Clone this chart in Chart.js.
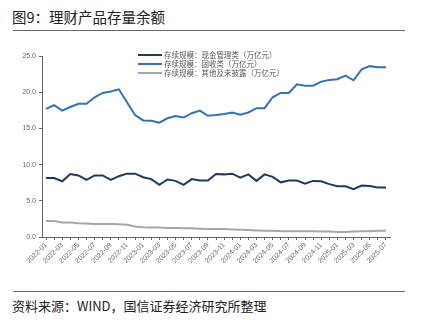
<!DOCTYPE html>
<html>
<head>
<meta charset="utf-8">
<script src="https://cdn.jsdelivr.net/npm/chart.js@4/dist/chart.umd.min.js"></script>
<style>
    body { margin: 0; width: 442px; height: 327px; background: #fff; position: relative; overflow: hidden;
           font-family: "Noto Sans CJK SC", "Noto Sans", sans-serif; }
    #title { position: absolute; left: 12px; top: 6px; font-size: 14.5px; color: #222; }
    .rule { position: absolute; left: 13px; width: 392px; height: 0; border-top: 1px solid #666; }
    #source { position: absolute; left: 12px; top: 296px; font-size: 13px; color: #222; }
    #wrap { position: absolute; left: 0; top: 45px; width: 400px; height: 240px; }
    #legend { position: absolute; left: 138px; top: 50px; font-size: 7.5px; color: #555; line-height: 9px; }
    #legend div { display: flex; align-items: center; }
    #legend span { display: inline-block; width: 24px; height: 2px; margin-right: 2px; }
</style>
</head>
<body>
<div id="title">图9：理财产品存量余额</div>
<div class="rule" style="top:30px"></div>
<div id="wrap"><canvas id="stockChart"></canvas></div>
<div id="legend"></div>
<div class="rule" style="top:291px"></div>
<div id="source">资料来源：WIND，国信证券经济研究所整理</div>
<script>
// Months 2022-01 .. 2025-07
const months = [];
for (let y = 2022; y <= 2025; y++) {
    for (let m = 1; m <= 12; m++) {
        if (y === 2025 && m > 7) break;
        months.push(`${y}-${String(m).padStart(2, '0')}`);
    }
}

const seriesNames = [
    '存续规模：现金管理类（万亿元）',
    '存续规模：固收类（万亿元）',
    '存续规模：其他及未披露（万亿元）'
];

const cashMgmt = [8.15, 8.15, 7.7, 8.7, 8.5, 7.9, 8.5, 8.5, 7.9, 8.4, 8.75,
    8.75, 8.25, 8.0, 7.2, 7.95, 7.75, 7.2, 8.0, 7.8, 7.8, 8.7,
    8.65, 8.75, 8.2, 8.65, 7.75, 8.65, 8.3, 7.55, 7.8, 7.8,
    7.35, 7.75, 7.7, 7.3, 7.0, 7.0, 6.6, 7.1, 7.05, 6.85, 6.85];

const fixedIncome = [17.7, 18.2, 17.45, 17.95, 18.4, 18.4, 19.3, 19.9, 20.1, 20.4, 18.6,
    16.85, 16.1, 16.05, 15.8, 16.4, 16.7, 16.5, 17.1, 17.45, 16.75, 16.85,
    17.0, 17.2, 16.9, 17.2, 17.8, 17.8, 19.3, 19.9, 19.9, 21.1,
    20.9, 20.9, 21.45, 21.7, 21.8, 22.3, 21.65, 23.15, 23.6, 23.45, 23.45];

const others = [2.2, 2.2, 2.0, 2.0, 1.9, 1.85, 1.8, 1.8, 1.8, 1.75, 1.7,
    1.45, 1.35, 1.3, 1.3, 1.25, 1.25, 1.2, 1.2, 1.15, 1.1, 1.1,
    1.1, 1.05, 1.0, 0.95, 0.9, 0.85, 0.85, 0.8, 0.8, 0.8,
    0.8, 0.8, 0.75, 0.75, 0.7, 0.7, 0.75, 0.8, 0.8, 0.85, 0.85];

const yTicks = [0, 5, 10, 15, 20, 25];

const colors = ['#1b3c5e', '#3473b0', '#a6a6a6'];

// HTML legend, stacked like the original
const legendEl = document.getElementById('legend');
seriesNames.forEach((name, i) => {
    const row = document.createElement('div');
    row.innerHTML = `<span style="background:${colors[i]}"></span>${name}`;
    legendEl.appendChild(row);
});

const tickFont = { family: 'Liberation Sans, Arial, sans-serif', size: 7 };

new Chart(document.getElementById('stockChart'), {
    type: 'line',
    data: {
        labels: months,
        datasets: [cashMgmt, fixedIncome, others].map((d, i) => ({
            label: seriesNames[i],
            data: d,
            borderColor: colors[i],
            borderWidth: 2,
            pointRadius: 0,
            tension: 0,
            fill: false
        }))
    },
    options: {
        responsive: true,
        maintainAspectRatio: false,
        animation: false,
        layout: { padding: { top: 11, right: 10, left: 0, bottom: 0 } },
        plugins: {
            legend: { display: false },
            tooltip: { enabled: false }
        },
        scales: {
            x: {
                offset: true,
                grid: { display: true, drawOnChartArea: false, offset: false, tickLength: 3, color: '#666' },
                border: { color: '#666' },
                ticks: {
                    autoSkip: false,
                    minRotation: 45,
                    maxRotation: 45,
                    padding: 1,
                    color: '#666',
                    font: tickFont,
                    callback: (v, i) => (i % 2 === 0 ? months[i] : '')
                },
                afterFit: s => { s.height = 48; }
            },
            y: {
                min: 0,
                max: 25,
                afterBuildTicks: s => { s.ticks = yTicks.map(v => ({ value: v })); },
                grid: { display: true, drawOnChartArea: false, tickLength: 3, color: '#666' },
                border: { color: '#666' },
                ticks: {
                    color: '#666',
                    padding: 3,
                    font: tickFont,
                    callback: v => v.toFixed(1)
                },
                afterFit: s => { s.width = 42; }
            }
        }
    }
});
</script>
</body>
</html>
